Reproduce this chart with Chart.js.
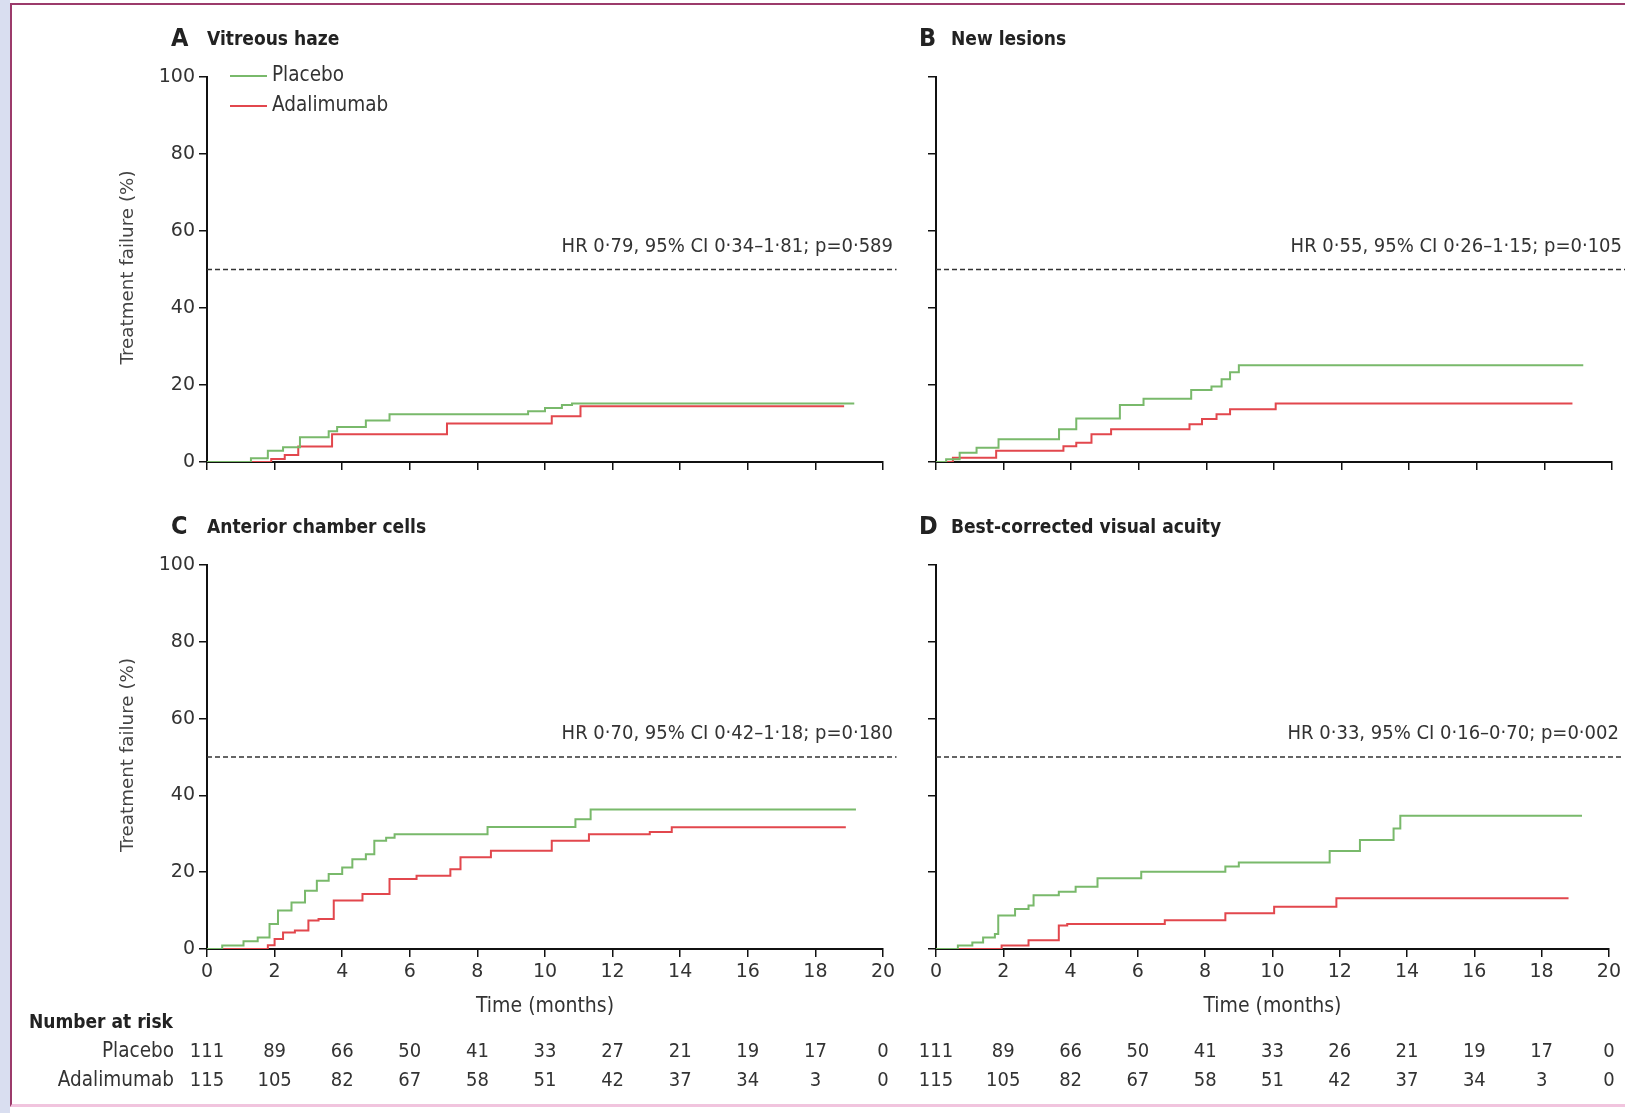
<!DOCTYPE html>
<html>
<head>
<meta charset="utf-8">
<script src="https://cdn.jsdelivr.net/npm/chart.js@4.4.0/dist/chart.umd.min.js"></script>
<style>
  html, body { margin: 0; padding: 0; background: #fff; }
  #page { position: relative; width: 1625px; height: 1113px; overflow: hidden; background: #fff; }
  #side { position: absolute; left: 0; top: 0; width: 10px; height: 1113px; background: #d9def0; }
  #frame { position: absolute; left: 10px; top: 3px; width: 1630px; height: 1104px; box-sizing: border-box;
           border-left: 2px solid #9c3b6b; border-top: 2px solid #9c3b6b; border-bottom: 3px solid #f1c4de; }
  .box { position: absolute; }
  canvas { display: block; }
</style>
</head>
<body>
<div id="page">
  <div id="side"></div>
  <div id="frame"></div>
  <div class="box" style="left:0;top:0;width:910px;height:490px"><canvas id="chartA" width="910" height="490"></canvas></div>
  <div class="box" style="left:900px;top:0;width:725px;height:490px"><canvas id="chartB" width="725" height="490"></canvas></div>
  <div class="box" style="left:0;top:490px;width:910px;height:623px"><canvas id="chartC" width="910" height="623"></canvas></div>
  <div class="box" style="left:900px;top:490px;width:725px;height:623px"><canvas id="chartD" width="725" height="623"></canvas></div>
</div>
<script>
// Kaplan-Meier curves: time (months) and cumulative treatment failure (%)
const aPlaceboX = [0, 1.3, 1.8, 2.25, 2.75, 3.6, 3.85, 4.7, 5.4, 9.0, 9.5, 10.0, 10.5, 10.8, 19.15];
const aPlaceboY = [0, 1.0, 2.9, 3.8, 6.4, 8.0, 9.1, 10.8, 12.4, 12.4, 13.2, 14.0, 14.8, 15.2, 15.2];
const aAdaX = [0, 1.9, 2.3, 2.7, 3.7, 7.1, 10.2, 11.05, 18.85];
const aAdaY = [0, 0.8, 1.8, 4.0, 7.2, 10.0, 11.9, 14.5, 14.5];

const bPlaceboX = [0, 0.3, 0.7, 1.2, 1.85, 3.64, 4.15, 5.44, 6.14, 7.55, 8.15, 8.45, 8.7, 8.96, 19.15];
const bPlaceboY = [0, 0.7, 2.4, 3.7, 5.9, 8.5, 11.3, 14.8, 16.4, 18.7, 19.6, 21.5, 23.3, 25.1, 25.1];
const bAdaX = [0, 0.5, 1.78, 3.77, 4.15, 4.6, 5.18, 7.5, 7.87, 8.3, 8.7, 10.05, 18.83];
const bAdaY = [0, 1.1, 2.9, 4.1, 5.0, 7.2, 8.5, 9.8, 11.2, 12.4, 13.7, 15.2, 15.2];

const cPlaceboX = [0, 0.45, 1.08, 1.5, 1.85, 2.1, 2.5, 2.9, 3.25, 3.6, 4.0, 4.3, 4.7, 4.95, 5.3, 5.55, 8.3, 10.9, 11.35, 19.2];
const cPlaceboY = [0, 0.9, 2.0, 3.0, 6.5, 10.0, 12.1, 15.2, 17.8, 19.5, 21.2, 23.4, 24.7, 28.2, 29.0, 29.9, 31.8, 33.8, 36.3, 36.3];
const cAdaX = [0, 1.8, 2.0, 2.25, 2.6, 3.0, 3.3, 3.75, 4.6, 5.4, 6.2, 7.2, 7.5, 8.4, 10.2, 11.3, 13.1, 13.75, 18.9];
const cAdaY = [0, 1.0, 2.6, 4.3, 4.8, 7.4, 7.8, 12.6, 14.3, 18.2, 19.1, 20.8, 23.9, 25.6, 28.2, 29.9, 30.5, 31.7, 31.7];

const dPlaceboX = [0, 0.65, 1.08, 1.4, 1.75, 1.85, 2.35, 2.75, 2.9, 3.65, 4.15, 4.8, 6.1, 8.6, 9.0, 11.7, 12.6, 13.6, 13.8, 19.2];
const dPlaceboY = [0, 0.9, 1.7, 3.0, 3.9, 8.7, 10.4, 11.3, 14.0, 14.9, 16.2, 18.4, 20.1, 21.5, 22.5, 25.5, 28.4, 31.4, 34.7, 34.7];
const dAdaX = [0, 1.95, 2.75, 3.65, 3.9, 6.8, 8.6, 10.05, 11.9, 18.8];
const dAdaY = [0, 0.9, 2.3, 6.1, 6.5, 7.5, 9.3, 11.0, 13.2, 13.2];

// reference line at 50% and axis ticks
const refLineX = [0, 20.4];
const refLineY = [50, 50];
const xTicks = [0, 2, 4, 6, 8, 10, 12, 14, 16, 18, 20];

// number at risk, at each x tick
const cRiskPlacebo = [111, 89, 66, 50, 41, 33, 27, 21, 19, 17, 0];
const cRiskAda = [115, 105, 82, 67, 58, 51, 42, 37, 34, 3, 0];
const dRiskPlacebo = [111, 89, 66, 50, 41, 33, 26, 21, 19, 17, 0];
const dRiskAda = [115, 105, 82, 67, 58, 51, 42, 37, 34, 3, 0];

const seriesNames = ['Placebo', 'Adalimumab'];
const GREEN = '#79b96b';
const RED = '#e2474d';
const FONT = '"DejaVu Sans Condensed", "DejaVu Sans", sans-serif';
const TICKFONT = '"DejaVu Sans", sans-serif';
const TXT = '#333';

function pts(xs, ys) { return xs.map((x, i) => ({ x: x, y: ys[i] })); }

const panelText = {
  id: 'panelText',
  afterDraw(chart, args, o) {
    const ctx = chart.ctx, a = chart.chartArea;
    const xs = chart.scales.x, ys = chart.scales.y;
    ctx.save();
    ctx.fillStyle = '#222';
    ctx.textBaseline = 'middle';
    ctx.textAlign = 'left';
    ctx.font = 'bold 25px ' + FONT;
    ctx.fillText(o.letter, a.left + o.letterDx, a.top - 38);
    ctx.font = 'bold 19px ' + FONT;
    ctx.fillText(o.title, a.left + o.titleDx, a.top - 37);

    ctx.font = '20px ' + FONT;
    ctx.fillStyle = TXT;
    ctx.textAlign = 'right';
    ctx.fillText(o.hr, a.right + 10, ys.getPixelForValue(56.0));

    if (o.legend) {
      const cols = [GREEN, RED];
      seriesNames.forEach((n, i) => {
        const y = a.top - 1 + i * 30;
        ctx.strokeStyle = cols[i];
        ctx.lineWidth = 2;
        ctx.beginPath(); ctx.moveTo(a.left + 23, y); ctx.lineTo(a.left + 60, y); ctx.stroke();
        ctx.textAlign = 'left';
        ctx.fillStyle = TXT;
        ctx.font = '20.5px ' + FONT;
        ctx.fillText(n, a.left + 65, y);
      });
    }
    if (o.yTitle) {
      ctx.save();
      ctx.translate(a.left - 79, (a.top + a.bottom) / 2 - 2);
      ctx.rotate(-Math.PI / 2);
      ctx.textAlign = 'center';
      ctx.font = '18.3px "DejaVu Sans", sans-serif';
      ctx.fillStyle = '#444';
      ctx.fillText('Treatment failure (%)', 0, 0);
      ctx.restore();
    }
    if (o.risk) {
      ctx.textAlign = 'center';
      ctx.font = '21px ' + FONT;
      ctx.fillStyle = TXT;
      ctx.fillText('Time (months)', (a.left + a.right) / 2, a.bottom + 58);
      ctx.font = '20px ' + FONT;
      const rows = [o.risk[0], o.risk[1]];
      rows.forEach((row, r) => {
        const y = a.bottom + 103 + r * 29;
        row.forEach((v, i) => {
          ctx.textAlign = 'center';
          ctx.fillText(String(v), xs.getPixelForValue(xTicks[i]), y);
        });
        if (o.riskLabels) {
          ctx.textAlign = 'right';
          ctx.font = '20.5px ' + FONT;
          ctx.fillText(seriesNames[r], a.left - 33, y);
          ctx.font = '20px ' + FONT;
        }
      });
      if (o.riskLabels) {
        ctx.textAlign = 'left';
        ctx.font = 'bold 19px ' + FONT;
        ctx.fillStyle = '#222';
        ctx.fillText('Number at risk', 29, a.bottom + 74);
      }
    }
    ctx.restore();
  }
};

function makePanel(id, cfg) {
  const axisGrid = { drawOnChartArea: false, drawTicks: true, tickLength: 8, color: '#111', lineWidth: 1.5 };
  const axisBorder = { display: true, color: '#111', width: 2 };
  new Chart(document.getElementById(id), {
    type: 'line',
    data: {
      datasets: [
        { label: seriesNames[0], data: pts(cfg.p[0], cfg.p[1]), borderColor: GREEN, borderWidth: 2, stepped: true, pointRadius: 0, fill: false },
        { label: seriesNames[1], data: pts(cfg.r[0], cfg.r[1]), borderColor: RED, borderWidth: 2, stepped: true, pointRadius: 0, fill: false },
        { label: 'ref', data: pts(refLineX, refLineY), borderColor: '#333', borderWidth: 1.3, borderDash: [5, 3], pointRadius: 0, clip: false }
      ]
    },
    options: {
      responsive: false,
      animation: false,
      events: [],
      layout: { padding: { left: 0, top: cfg.padTop, right: cfg.padRight, bottom: 0 } },
      plugins: {
        legend: { display: false },
        tooltip: { enabled: false },
        panelText: cfg.text
      },
      scales: {
        x: {
          type: 'linear', min: 0, max: 20,
          afterBuildTicks: s => { s.ticks = xTicks.map(v => ({ value: v })); },
          afterFit: s => { s.height = cfg.xH; },
          grid: axisGrid, border: axisBorder,
          ticks: { padding: 4, color: TXT, font: { family: TICKFONT, size: 19 }, maxRotation: 0,
                   callback: v => cfg.xLabels ? String(v) : '' }
        },
        y: {
          min: 0, max: 100,
          ticks: { stepSize: 20, padding: 4, color: TXT, font: { family: TICKFONT, size: 19 },
                   callback: v => cfg.yLabels ? String(v) : '' },
          afterFit: s => { s.width = cfg.yW; },
          grid: axisGrid, border: axisBorder
        }
      }
    },
    plugins: [panelText]
  });
}

makePanel('chartA', {
  p: [aPlaceboX, aPlaceboY], r: [aAdaX, aAdaY],
  padTop: 77, padRight: 27, yW: 207, xH: 28, xLabels: false, yLabels: true,
  text: { letter: 'A', letterDx: -36, titleDx: 0, title: 'Vitreous haze', hr: 'HR 0·79, 95% CI 0·34–1·81; p=0·589', legend: true, yTitle: true }
});
makePanel('chartB', {
  p: [bPlaceboX, bPlaceboY], r: [bAdaX, bAdaY],
  padTop: 77, padRight: 13, yW: 36, xH: 28, xLabels: false, yLabels: false,
  text: { letter: 'B', letterDx: -17, titleDx: 15, title: 'New lesions', hr: 'HR 0·55, 95% CI 0·26–1·15; p=0·105' }
});
makePanel('chartC', {
  p: [cPlaceboX, cPlaceboY], r: [cAdaX, cAdaY],
  padTop: 75, padRight: 27, yW: 207, xH: 164, xLabels: true, yLabels: true,
  text: { letter: 'C', letterDx: -36, titleDx: 0, title: 'Anterior chamber cells', hr: 'HR 0·70, 95% CI 0·42–1·18; p=0·180', yTitle: true,
          risk: [cRiskPlacebo, cRiskAda], riskLabels: true }
});
makePanel('chartD', {
  p: [dPlaceboX, dPlaceboY], r: [dAdaX, dAdaY],
  padTop: 75, padRight: 13, yW: 36, xH: 164, xLabels: true, yLabels: false,
  text: { letter: 'D', letterDx: -17, titleDx: 15, title: 'Best-corrected visual acuity', hr: 'HR 0·33, 95% CI 0·16–0·70; p=0·002',
          risk: [dRiskPlacebo, dRiskAda] }
});
</script>
</body>
</html>
